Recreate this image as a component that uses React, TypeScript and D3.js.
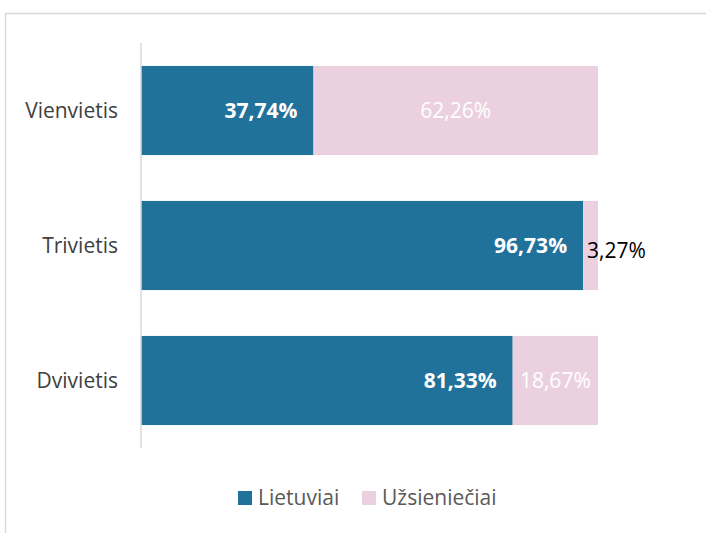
import React from "react";
import * as d3 from "d3";

const categories = ["Vienvietis", "Trivietis", "Dvivietis"];
const lietuviai = [37.74, 96.73, 81.33];
const uzsienieciai = [62.26, 3.27, 18.67];
const seriesNames = ["Lietuviai", "Užsieniečiai"];
const colors = ["#21729A", "#EBD1E0"];

const W = 706;
const H = 533;
const FONT = "'Open Sans', sans-serif";
const FS = 21;

const fmt = (v: number) => v.toFixed(2).replace(".", ",") + "%";

export default function App() {
  const x = d3.scaleLinear().domain([0, 100]).range([141, 598]);
  const y = d3
    .scaleBand<string>()
    .domain(categories)
    .range([43, 448])
    .paddingInner(0.34)
    .paddingOuter(0.17);
  const bh = y.bandwidth();

  return (
    <svg
      width={W}
      height={H}
      style={{ position: "absolute", left: 0, top: 0, background: "#fff" }}
      fontFamily={FONT}
    >
      <rect x={5.5} y={13.5} width={800} height={600} fill="none" stroke="#d9d9d9" strokeWidth={1.5} />
      {categories.map((c, i) => {
        const y0 = y(c)!;
        const cy = y0 + bh / 2;
        const a = lietuviai[i];
        const b = uzsienieciai[i];
        const xa = x(a);
        const xb = x(a + b);
        const small = b < 8;
        return (
          <g key={c}>
            <text x={118} y={cy} dy="0.35em" textAnchor="end" fontSize={FS} fill="#404040">
              {c}
            </text>
            <rect x={x(0)} y={y0} width={xa - x(0)} height={bh} fill={colors[0]} />
            <rect x={xa} y={y0} width={xb - xa} height={bh} fill={colors[1]} />
            <text x={xa - 16} y={cy} dy="0.35em" textAnchor="end" fontSize={FS} fontWeight="bold" fill="#fff">
              {fmt(a)}
            </text>
            {small ? (
              <text x={xa + 4} y={cy} dy="0.6em" textAnchor="start" fontSize={FS} fill="#000">
                {fmt(b)}
              </text>
            ) : (
              <text x={(xa + xb) / 2} y={cy} dy="0.35em" textAnchor="middle" fontSize={FS} fill="#fff">
                {fmt(b)}
              </text>
            )}
          </g>
        );
      })}
      <line x1={141} x2={141} y1={43} y2={448} stroke="#d9d9d9" strokeWidth={1.5} />
      <g>
        <rect x={238} y={491} width={14} height={14} fill={colors[0]} />
        <text x={258} y={498} dy="0.35em" fontSize={FS} fill="#595959">
          {seriesNames[0]}
        </text>
        <rect x={362} y={491} width={14} height={14} fill={colors[1]} />
        <text x={382} y={498} dy="0.35em" fontSize={FS} fill="#595959">
          {seriesNames[1]}
        </text>
      </g>
    </svg>
  );
}
